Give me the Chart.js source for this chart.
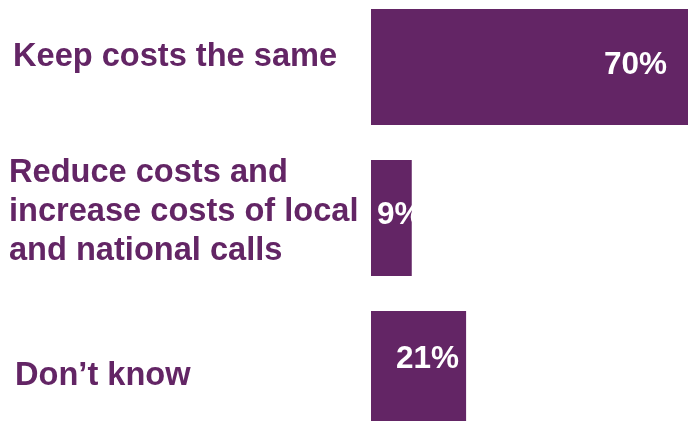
<!DOCTYPE html>
<html>
<head>
<meta charset="utf-8">
<script src="https://cdn.jsdelivr.net/npm/chart.js@4/dist/chart.umd.min.js"></script>
<style>
  html, body { margin: 0; padding: 0; background: #ffffff; }
  #wrap { width: 689px; height: 421px; overflow: hidden; }
</style>
</head>
<body>
<div id="wrap"><canvas id="chart" width="689" height="421"></canvas></div>
<script>
// Survey answers (one entry per line of each answer label)
const categories = [
  ["Keep costs the same"],
  ["Reduce costs and", "increase costs of local", "and national calls"],
  ["Don\u2019t know"]
];
// Share of respondents, in percent
const shares = [70, 9, 21];
const valueLabels = shares.map(v => v + "%");

const PURPLE = "#632565";
const FONT = "'Liberation Sans', Arial, sans-serif";

// Where each answer label sits: left edge and baseline shift from the bar centre
const answerLabelStyle = [
  { x: 13, dy: -1 },
  { x: 9,  dy: 3 },
  { x: 15, dy: 16 }
];
// How each percentage sits inside its bar
const valueLabelStyle = [
  { align: "right", from: "end",   dx: -21, dy: 7 },
  { align: "left",  from: "start", dx: 6,   dy: 6 },
  { align: "left",  from: "start", dx: 25,  dy: -1 }
];

const labelPlugin = {
  id: "barLabels",
  afterDatasetsDraw(chart) {
    const ctx = chart.ctx;
    const meta = chart.getDatasetMeta(0);
    ctx.save();
    ctx.textBaseline = "alphabetic";

    // answer labels on the left
    ctx.font = "bold 32.6px " + FONT;
    ctx.fillStyle = PURPLE;
    ctx.textAlign = "left";
    const lineHeight = 39;
    categories.forEach((lines, i) => {
      const yc = chart.scales.y.getPixelForValue(i);
      const st = answerLabelStyle[i];
      lines.forEach((line, k) => {
        const y = yc + st.dy + (k - (lines.length - 1) / 2) * lineHeight;
        ctx.fillText(line, st.x, y);
      });
    });

    // percentages inside the bars
    ctx.font = "bold 31.5px " + FONT;
    ctx.fillStyle = "#ffffff";
    meta.data.forEach((bar, i) => {
      const st = valueLabelStyle[i];
      const x0 = st.from === "end" ? bar.x : bar.base;
      ctx.textAlign = st.align;
      ctx.fillText(valueLabels[i], x0 + st.dx, bar.y + st.dy);
    });
    ctx.restore();
  }
};

new Chart(document.getElementById("chart"), {
  type: "bar",
  data: {
    labels: categories,
    datasets: [{
      data: shares,
      backgroundColor: PURPLE,
      borderWidth: 0,
      barPercentage: 1,
      categoryPercentage: 116 / 151,
      clip: false
    }]
  },
  options: {
    indexAxis: "y",
    responsive: false,
    devicePixelRatio: 1,
    animation: false,
    layout: { padding: { left: 371, right: 1, top: 67, bottom: 52 } },
    plugins: {
      legend: { display: false },
      tooltip: { enabled: false }
    },
    scales: {
      x: { display: false, min: 0, max: 70 },
      y: { display: false, offset: false }
    }
  },
  plugins: [labelPlugin]
});
</script>
</body>
</html>
